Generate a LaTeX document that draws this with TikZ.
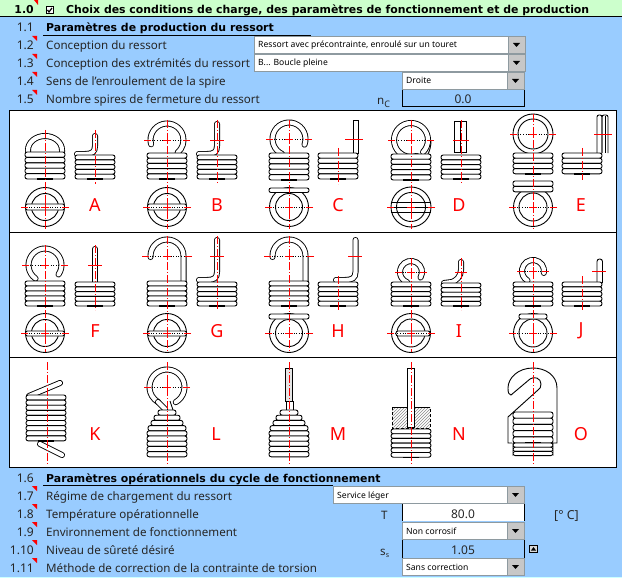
\documentclass[tikz,border=0pt]{standalone}
\usepackage{fontspec}
\setmainfont{Noto Sans}
\newfontfamily\headfont{DejaVu Sans}
\usetikzlibrary{calc,patterns}
\definecolor{sheetblue}{HTML}{99CCFF}
\definecolor{headgreen}{HTML}{CCFFCC}
\definecolor{cellcyan}{HTML}{CCFFFF}
\definecolor{dropgrey}{HTML}{8E9AA0}
\tikzset{
    wire/.style = {black, line width = 0.9pt},
    rod/.style = {black, line width = 0.9pt, double = white, double distance = 4.2pt, line cap = round},
    centerline/.style = {red, line width = 0.8pt, dash pattern = on 8pt off 2pt on 1pt off 2pt},
    rowtext/.style = {anchor = base west, inner sep = 0pt, font = \fontsize{11.6}{12}\selectfont, text = black!85},
    rownumber/.style = {anchor = base east, inner sep = 0pt, font = \fontsize{12}{12}\selectfont, text = black!85},
    headtext/.style = {anchor = base west, inner sep = 0pt, font = \headfont\fontsize{10.9}{12}\selectfont\bfseries},
    droptext/.style = {anchor = base west, inner sep = 0pt, font = \fontsize{8.6}{10}\selectfont},
    valuetext/.style = {anchor = base, inner sep = 0pt, font = \fontsize{12}{12}\selectfont, text = black!85},
    letter/.style = {red, inner sep = 0pt, font = \fontsize{18}{18}\selectfont}
}
% one row of the springs: stack of coils
\newcommand{\coilstack}[5]{
    \foreach \k in {1,...,#3}
        \draw [wire, fill = white, rounded corners = 2.2pt] (#1-#5,{#2+(\k-1)*#4}) rectangle ++(2*#5,#4);
    \draw [black, line width = 1.4pt] (#1-8,{#2+#3*#4}) -- ++(16,0);
}
\newcommand{\conestack}[1]{
    \foreach \k/\hw in {0/9,1/13,2/16,3/19,4/20,5/20,6/20,7/20,8/20}
        \draw [wire, fill = white, rounded corners = 2.2pt] (#1-\hw,{410+\k*5.2}) rectangle ++(2*\hw,5.2);
}
\newcommand{\ringarc}[5]{
    \draw [rod, shift = {(#1,#2)}] (#4:#3) arc (#4:#5:#3);
}
\newcommand{\crossmark}[3]{
    \draw [black, line width = 0.6pt, dotted] (#1-#3,#2) -- (#1+#3,#2);
    \draw [red, line width = 0.9pt] (#1-#3,#2) -- ++(7,0) (#1+#3,#2) -- ++(-7,0)
                                    (#1-4,#2) -- (#1+4,#2) (#1,#2-4) -- (#1,#2+4);
}
\newcommand{\ringview}[4]{
    \draw [wire] (#1,#2) circle (#3) (#1,#2) circle (#4);
}
\newcommand{\bandview}[4]{
    \draw [wire, fill = white, rounded corners = 2pt] (#1-#3,#2) rectangle (#1+#3,#2+#4);
}
\newcommand{\dropbox}[5]{
    \draw [dropgrey, fill = white] (#2,#3) rectangle (#4,#3+17);
    \draw [dropgrey, fill = black!22] (#4-17,#3) rectangle (#4,#3+17);
    \fill [black] (#4-12,#3+7) -- ++(7,0) -- ++(-3.5,4) -- cycle;
    \node [droptext] (#1) at (#2+4,#3+12) {#5};
}

\begin{document}
\begin{tikzpicture}[yscale=-1]
    \useasboundingbox (0,0) rectangle (622pt,578pt);
    \begin{scope}[x=1pt,y=1pt]
        % sheet
        \fill [sheetblue] (0,0) rectangle (622,578);
        \fill [headgreen] (0,0) rectangle (622,16);
        \fill [cellcyan] (0,577) rectangle (622,578);
        \draw [black, line width = 1.3pt] (0,16.5) -- (622,16.5);
        \draw [black, line width = 1pt] (43,35.5) -- (311,35.5);
        \draw [black, line width = 1pt] (43,485.5) -- (333,485.5);

        % texts of the rows
        \node [headtext, anchor = base east] (numhead) at (34,14) {1.0};
        \draw [black, line width = 0.7pt, fill = white] (46,6.5) rectangle (53,13.5);
        \draw [black, line width = 1.2pt] (47.5,10) -- (49,12) -- (52,8);
        \node [headtext] (title) at (66,14) {Choix des conditions de charge, des paramètres de fonctionnement et de production};
        \fill [red] (34,0) -- (38,0) -- (38,5) -- cycle;
        \node [rownumber] (numprod) at (34,32) {1.1};
        \node [headtext] (headprod) at (46,32) {Paramètres de production du ressort};
        \node [rownumber] (numcycle) at (34,482) {1.6};
        \node [headtext] (headcycle) at (46,482) {Paramètres opérationnels du cycle de fonctionnement};
        \foreach \rowid/\ypos/\rownum/\rowlabel in {
            concept/45/1.2/{Conception du ressort},
            ends/63/1.3/{Conception des extrémités du ressort},
            winding/81/1.4/{Sens de l'enroulement de la spire},
            closing/99/1.5/{Nombre spires de fermeture du ressort},
            regime/495/1.7/{Régime de chargement du ressort},
            temp/513/1.8/{Température opérationnelle},
            envir/531/1.9/{Environnement de fonctionnement},
            safety/549/1.10/{Niveau de sûreté désiré},
            method/567/1.11/{Méthode de correction de la contrainte de torsion}
        }{
            \node [rownumber] (num\rowid) at (34,\ypos+5) {\rownum};
            \node [rowtext] (label\rowid) at (46,\ypos+5) {\rowlabel};
            \fill [red] (32,\ypos-9) -- (37,\ypos-9) -- (37,\ypos-4) -- cycle;
        }

        % cells
        \dropbox{dropconcept}{254}{36}{525}{Ressort avec précontrainte, enroulé sur un touret}
        \dropbox{dropends}{254}{54}{525}{B... Boucle pleine}
        \dropbox{dropwinding}{402}{72}{524}{Droite}
        \draw [black, line width = 1pt] (402,90) -- (402,107) -- (524,107) -- (524,90);
        \node [valuetext] (valclosing) at (463,104) {0.0};
        \node [rowtext] (symclosing) at (377,105) {n\raisebox{-2.5pt}{\fontsize{9}{9}\selectfont C}};
        \dropbox{dropregime}{333}{486}{524}{Service léger}
        \fill [white] (402,504) rectangle (524,521);
        \draw [black, line width = 1pt] (402,504) -- (402,521) (524,504) -- (524,521);
        \node [valuetext] (valtemp) at (463,518) {80.0};
        \node [rowtext] (symtemp) at (381,519) {T};
        \node [rowtext, font = \fontsize{12.4}{12}\selectfont] (unittemp) at (554,519) {[° C]};
        \dropbox{dropenvir}{402}{522}{524}{Non corrosif}
        \draw [black, line width = 1pt] (402,540) -- (402,558) (524,540) -- (524,558);
        \node [valuetext] (valsafety) at (463,554) {1.05};
        \node [rowtext] (symsafety) at (380,555) {s\raisebox{-2.5pt}{\fontsize{7}{7}\selectfont s}};
        \draw [black, line width = 0.9pt, fill = black!15] (529.5,545.5) rectangle (537,552.5);
        \fill [black] (531,550.5) -- (536,550.5) -- (533.5,547) -- cycle;
        \dropbox{dropmethod}{402}{558}{524}{Sans correction}

        % panel
        \draw [black, line width = 1pt, fill = white] (9.5,110.5) rectangle (616.5,467.5);
        \draw [black, line width = 1pt] (9.5,232.5) -- (616.5,232.5)
                                        (9.5,357.5) -- (616.5,357.5);

        % A
        \draw [rod] (28,152) -- (28,150) arc [start angle = 180, end angle = 360, x radius = 17, y radius = 14] -- (62,152);
        \coilstack{45}{152}{5}{5.4}{20}
        \ringview{45}{207}{19.5}{13.5}
        \bandview{45}{204}{19.5}{6}
        \draw [rod] (95,136) -- (95,146) .. controls (95,152) and (92,154) .. (85,154) -- (77,154);
        \coilstack{95}{155}{5}{4.8}{20}
        % B
        \ringarc{167}{140}{16.5}{165}{410}
        \coilstack{167}{153}{5}{5.2}{20}
        \ringview{167}{207}{19.5}{13.5}
        \bandview{167}{204}{19.5}{6}
        \draw [rod] (217,124) -- (217,146) .. controls (217,152) and (214,154) .. (207,154) -- (199,154);
        \coilstack{217}{155}{5}{4.8}{20}
        % C
        \ringarc{289}{139}{16.5}{20}{-245}
        \coilstack{289}{153}{5}{5.4}{20}
        \ringview{289}{207}{19.5}{13.5}
        \bandview{289}{188}{20}{4.5}
        \draw [wire, fill = white] (353,120) rectangle (358.5,153);
        \coilstack{338}{153}{5}{5.2}{20}
        % D
        \ringarc{411}{140}{17}{45}{-290}
        \draw [wire] (431,140) .. controls (431,146) and (430,150) .. (428,154);
        \coilstack{411}{154}{5}{5.2}{20}
        \ringview{411}{207}{20}{14.5}
        \draw [wire] (391,202) -- (431,202) (390,207) -- (432,207) (391,212) -- (431,212);
        \draw [wire, fill = white] (454,121) rectangle (466,152);
        \draw [wire] (460,122) -- (460,152);
        \coilstack{461}{155}{5}{4.8}{20}
        % E
        \ringview{533}{134}{20}{15}
        \coilstack{533}{153}{4}{5.2}{20}
        \ringview{533}{207}{19.5}{14}
        \bandview{533}{181}{20}{5.4}
        \bandview{533}{186.4}{20}{5.4}
        \draw [wire, rounded corners = 2pt] (597,153) -- (597,115) -- (602,115) -- (602,153);
        \draw [wire, rounded corners = 2pt] (602,153) -- (602,115) -- (608,115) -- (608,153);
        \draw [wire] (605,116) -- (605,153);
        \coilstack{582}{153}{4}{5.2}{20}

        % F
        \ringarc{45}{265}{16.5}{35}{-235}
        \coilstack{45}{281}{5}{5}{20}
        \ringview{45}{333}{19.5}{13.5}
        \bandview{45}{331}{19.5}{5}
        \draw [rod] (95,249) -- (95,282);
        \coilstack{95}{282}{5}{4.8}{20}
        % G
        \draw [rod] (150.5,257) -- (150.5,256) arc [start angle = 180, end angle = 360, radius = 16.5] -- (183.5,282);
        \coilstack{167}{281}{5}{5}{20}
        \ringview{167}{333}{19.5}{13.5}
        \bandview{167}{331}{19.5}{5}
        \draw [rod] (217,240) -- (217,272) .. controls (217,278) and (214,280) .. (207,280) -- (199,280);
        \coilstack{217}{282}{5}{4.8}{20}
        % H
        \draw [rod] (272.5,257) -- (272.5,256) arc [start angle = 180, end angle = 360, radius = 16.5] -- (305.5,282);
        \coilstack{289}{281}{5}{5}{20}
        \ringview{289}{333}{19.5}{13.5}
        \bandview{289}{314}{20}{5}
        \draw [rod] (355.5,240) -- (355.5,272) .. controls (355.5,278) and (352,280) .. (345,280) -- (336,280);
        \coilstack{338}{282}{5}{4.8}{20}
        % I
        \ringarc{411}{272}{11}{30}{-250}
        \coilstack{411}{282}{5}{4.8}{20}
        \ringview{411}{333}{19.5}{14}
        \bandview{413}{331}{17}{5}
        \draw [rod] (461,262) -- (461,270) .. controls (461,276) and (456,281) .. (452,282) -- (444,283);
        \coilstack{461}{283}{5}{4.6}{20}
        % J
        \ringarc{533}{271}{11}{10}{-240}
        \coilstack{533}{282}{5}{4.8}{20}
        \ringview{533}{333}{19.5}{14}
        \bandview{533}{314}{14}{5}
        \draw [wire, fill = white, rounded corners = 2.5pt] (597,283) -- (597,259) -- (602.5,259) -- (602.5,283);
        \coilstack{582}{282}{5}{4.8}{20}

        % K
        \draw [rod] (29,396) -- (60,383);
        \draw [rod] (40,444) -- (62,455);
        \coilstack{46}{395}{9}{5.1}{20}
        % L
        \ringarc{167}{387}{17.5}{60}{-240}
        \draw [rod] (158,402) -- (165,409);
        \draw [wire] (170,401) -- (173,410);
        \conestack{167}
        % M
        \draw [wire, fill = black!10] (285,368) rectangle (292,401);
        \draw [wire] (286,401) rectangle (293,410);
        \conestack{289}
        % N
        \fill [pattern = north east lines, pattern color = black!45] (392,407) rectangle (430,428);
        \draw [wire] (392,407) -- (430,407);
        \draw [wire, densely dashed] (392,407) -- (392,428) -- (430,428) -- (430,407);
        \draw [wire, fill = white] (407,368) rectangle (414,427);
        \coilstack{411}{429}{6}{4.7}{20}
        % O
        \draw [wire] (552,443) -- (557,443) -- (557,388) .. controls (557,375) and (545,368) .. (533,368)
                     .. controls (518,368) and (508,378) .. (508,388) .. controls (508,393) and (509,395) .. (511,395)
                     -- (530,379) .. controls (534,376) and (541,378) .. (541,384) .. controls (541,387) and (540,389) .. (538,390)
                     -- (508,417) -- (508,443) -- (512,443);
        \coilstack{533}{412}{5}{6.2}{20}
        \coilstack{533}{443}{3}{4.2}{20}

        % axes
        \foreach \xa/\ya/\yb in {45/130/229, 167/120/229, 289/120/229, 411/120/229, 533/114/229,
                                 45/245/352, 167/236/352, 289/236/352, 411/258/352, 533/258/352,
                                 47/362/465, 167/362/465, 289/362/465, 411/362/465, 533/362/465,
                                 95/130/184, 217/120/184, 338/148/184, 461/120/184, 582/148/180,
                                 95/245/310, 217/236/310, 338/276/310, 461/258/310, 582/276/310}
            \draw [centerline] (\xa,\ya) -- (\xa,\yb);
        \foreach \xa/\ya/\ra in {167/140/23, 289/139/23, 411/140/23, 533/134/23,
                                 45/207/24, 167/207/24, 289/207/24, 411/207/24, 533/207/24,
                                 45/265/23, 167/256/25, 289/256/25, 411/272/16, 533/271/16,
                                 45/333/24, 167/333/24, 289/333/24, 411/333/24, 533/333/24,
                                 167/387/23}
            \crossmark{\xa}{\ya}{\ra}
        \foreach \xa/\ya/\ra in {217/140/7, 354/139/9, 461/140/8, 603/134/9,
                                 95/265/7, 217/256/7, 355/256/7, 461/272/6, 599/271/7}
            \draw [red, line width = 0.9pt] (\xa-\ra,\ya) -- (\xa+\ra,\ya);

        % letters
        \foreach \lname/\lx/\ly in {A/95/205, B/217/205, C/338/205, D/459/205, E/581/205,
                                    F/95/331, G/217/331, H/338/331, I/459/331, J/581/331,
                                    K/95/434, L/216/434, M/338/434, N/459/434, O/581/434}
            \node [letter] (lbl\lname) at (\lx,\ly) {\lname};
    \end{scope}
\end{tikzpicture}
\end{document}
